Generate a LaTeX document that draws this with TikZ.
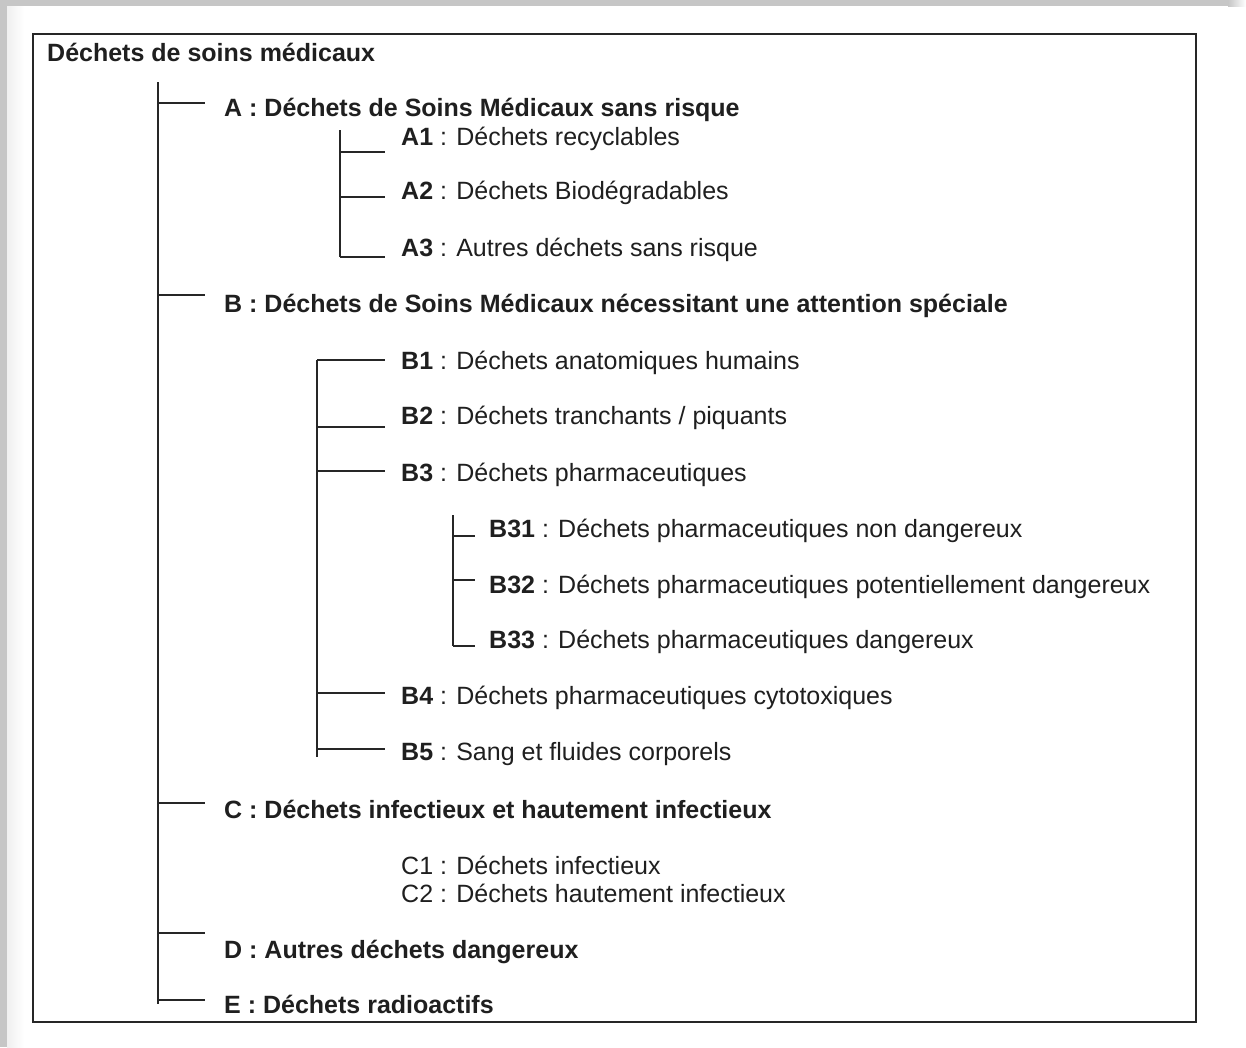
\documentclass[tikz,border=0pt]{standalone}
\usepackage{fontspec}
\setmainfont{Liberation Sans}
\begin{document}
\begin{tikzpicture}[x=1pt,y=-1pt,
  txt/.style={anchor=base west, inner sep=0pt, font=\fontsize{25}{30}\selectfont, text=black!88},
  conn/.style={line width=2pt, draw=black!85}]
\fill[white] (0,0) rectangle (1246,1047);
\useasboundingbox (0,0) rectangle (1246,1047);
% outer shadow frame
\fill[gray!45] (0,0) rectangle (1228,6);
\shade[left color=gray!45, right color=white] (1228,0) rectangle (1246,6);
\fill[gray!45] (0,0) rectangle (7,1047);
\shade[left color=gray!12, right color=white] (7,6) rectangle (24,1047);
% inner frame
\draw[line width=1.8pt, black!85] (33,34) rectangle (1196,1022);

% texts
\node[txt] (title) at (47,61) {\textbf{Déchets de soins médicaux}};
\node[txt] (A) at (224,116) {\textbf{A : Déchets de Soins Médicaux sans risque}};
\node[txt] (A1) at (401,145) {\textbf{A1} : Déchets recyclables};
\node[txt] (A2) at (401,199) {\textbf{A2} : Déchets Biodégradables};
\node[txt] (A3) at (401,256) {\textbf{A3} : Autres déchets sans risque};
\node[txt] (B) at (224,312) {\textbf{B : Déchets de Soins Médicaux nécessitant une attention spéciale}};
\node[txt] (B1) at (401,369) {\textbf{B1} : Déchets anatomiques humains};
\node[txt] (B2) at (401,424) {\textbf{B2} : Déchets tranchants / piquants};
\node[txt] (B3) at (401,481) {\textbf{B3} : Déchets pharmaceutiques};
\node[txt] (B31) at (489,537) {\textbf{B31} : Déchets pharmaceutiques non dangereux};
\node[txt] (B32) at (489,593) {\textbf{B32} : Déchets pharmaceutiques potentiellement dangereux};
\node[txt] (B33) at (489,648) {\textbf{B33} : Déchets pharmaceutiques dangereux};
\node[txt] (B4) at (401,704) {\textbf{B4} : Déchets pharmaceutiques cytotoxiques};
\node[txt] (B5) at (401,760) {\textbf{B5} : Sang et fluides corporels};
\node[txt] (C) at (224,818) {\textbf{C : Déchets infectieux et hautement infectieux}};
\node[txt] (C1) at (401,874) {C1 : Déchets infectieux};
\node[txt] (C2) at (401,902) {C2 : Déchets hautement infectieux};
\node[txt] (D) at (224,958) {\textbf{D : Autres déchets dangereux}};
\node[txt] (E) at (224,1013) {\textbf{E : Déchets radioactifs}};

% main trunk
\coordinate (t0) at (158,82);
\coordinate (t1) at (158,1004);
\draw[conn] (t0) -- (t1);
\foreach \n/\y in {A/103, B/295, C/803, D/933, E/1000}{
  \coordinate (j\n) at (158,\y);
  \coordinate (e\n) at (205,\y);
  \draw[conn] (j\n) -- (e\n);
}
% A subtree
\coordinate (a0) at (340,130);
\coordinate (a1) at (340,257);
\draw[conn] (a0) -- (a1);
\foreach \n/\y in {A1/152, A2/197, A3/257}{
  \coordinate (j\n) at (340,\y);
  \coordinate (e\n) at (385,\y);
  \draw[conn] (j\n) -- (e\n);
}
% B subtree
\coordinate (b0) at (317,360);
\coordinate (b1) at (317,757);
\draw[conn] (b0) -- (b1);
\foreach \n/\y in {B1/360, B2/427, B3/471, B4/693, B5/749}{
  \coordinate (j\n) at (317,\y);
  \coordinate (e\n) at (385,\y);
  \draw[conn] (j\n) -- (e\n);
}
% B3 subtree
\coordinate (c0) at (453,515);
\coordinate (c1) at (453,646);
\draw[conn] (c0) -- (c1);
\foreach \n/\y in {B31/536, B32/580, B33/646}{
  \coordinate (j\n) at (453,\y);
  \coordinate (e\n) at (475,\y);
  \draw[conn] (j\n) -- (e\n);
}
\end{tikzpicture}
\end{document}
